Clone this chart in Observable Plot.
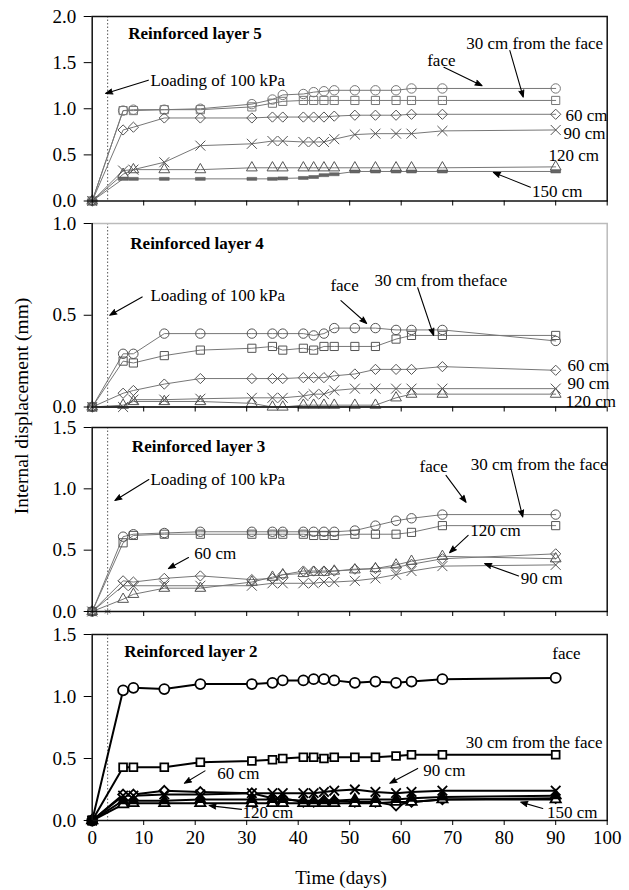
<!DOCTYPE html>
<html>
<head>
<meta charset="utf-8">
<script src="https://cdn.jsdelivr.net/npm/d3@7"></script>
<script src="https://cdn.jsdelivr.net/npm/@observablehq/plot@0.6"></script>
<style>
  body { margin: 0; background: #fff; }
  #wrap { position: relative; width: 629px; height: 890px; overflow: hidden; font-family: "Liberation Serif", "Times New Roman", serif; color: #000; }
  #wrap svg { position: absolute; left: 0; overflow: visible; font-family: "Liberation Serif", "Times New Roman", serif !important; font-size: 19px; background: transparent !important; }
  .ylab { position: absolute; left: 22px; top: 406px; transform: translate(-50%, -50%) rotate(-90deg); font-size: 19.5px; white-space: nowrap; }
  .xlab { position: absolute; left: 341px; top: 878px; transform: translate(-50%, -50%); font-size: 19px; white-space: nowrap; }
</style>
</head>
<body>
<div id="wrap">
  <div class="ylab">Internal displacement (mm)</div>
  <div class="xlab">Time (days)</div>
</div>
<script>
// ---------------- DATA ----------------
const days = [0, 6, 8, 14, 21, 31, 35, 37, 41, 43, 45, 47, 51, 55, 59, 62, 68, 90];
const loadingDay = 3;
const xTicks = [0, 10, 20, 30, 40, 50, 60, 70, 80, 90, 100];

// Reinforced layer 5
const l5Face  = [0, 0.98, 0.99, 0.99, 1.00, 1.05, 1.10, 1.15, 1.16, 1.18, 1.19, 1.20, 1.20, 1.20, 1.20, 1.22, 1.22, 1.22];
const l5Cm30  = [0, 0.98, 0.98, 0.99, 0.99, 1.02, 1.06, 1.08, 1.09, 1.09, 1.09, 1.09, 1.09, 1.09, 1.09, 1.09, 1.09, 1.09];
const l5Cm60  = [0, 0.77, 0.80, 0.90, 0.90, 0.90, 0.91, 0.91, 0.91, 0.91, 0.91, 0.92, 0.93, 0.93, 0.93, 0.94, 0.94, 0.94];
const l5Cm90  = [0, 0.33, 0.34, 0.42, 0.60, 0.62, 0.65, 0.65, 0.64, 0.64, 0.64, 0.67, 0.72, 0.73, 0.73, 0.73, 0.76, 0.77];
const l5Cm120 = [0, 0.29, 0.34, 0.34, 0.34, 0.36, 0.36, 0.36, 0.36, 0.36, 0.36, 0.36, 0.36, 0.36, 0.36, 0.36, 0.36, 0.37];
const l5Cm150 = [0, 0.24, 0.24, 0.24, 0.24, 0.24, 0.24, 0.245, 0.25, 0.26, 0.28, 0.29, 0.32, 0.32, 0.32, 0.32, 0.32, 0.32];

// Reinforced layer 4
const l4Face  = [0, 0.29, 0.29, 0.40, 0.40, 0.40, 0.40, 0.40, 0.40, 0.39, 0.40, 0.43, 0.43, 0.43, 0.42, 0.42, 0.42, 0.36];
const l4Cm30  = [0, 0.25, 0.24, 0.28, 0.31, 0.32, 0.33, 0.31, 0.32, 0.31, 0.33, 0.33, 0.33, 0.33, 0.37, 0.39, 0.39, 0.39];
const l4Cm60  = [0, 0.075, 0.09, 0.125, 0.155, 0.155, 0.155, 0.155, 0.16, 0.16, 0.16, 0.17, 0.18, 0.205, 0.205, 0.205, 0.22, 0.20];
const l4Cm90  = [0, 0.0, 0.04, 0.04, 0.045, 0.05, 0.05, 0.05, 0.06, 0.07, 0.07, 0.09, 0.10, 0.10, 0.10, 0.10, 0.10, 0.10];
const l4Cm120 = [0, 0.01, 0.03, 0.03, 0.03, 0.02, 0.0, 0.0, 0.01, 0.01, 0.01, 0.01, 0.01, 0.01, 0.05, 0.07, 0.07, 0.07];

// Reinforced layer 3
const l3Face  = [0, 0.61, 0.63, 0.64, 0.65, 0.65, 0.65, 0.65, 0.65, 0.65, 0.65, 0.65, 0.66, 0.70, 0.74, 0.76, 0.79, 0.79];
const l3Cm30  = [0, 0.56, 0.62, 0.63, 0.63, 0.63, 0.63, 0.63, 0.63, 0.62, 0.62, 0.62, 0.63, 0.63, 0.63, 0.645, 0.70, 0.70];
const l3Cm60  = [0, 0.25, 0.24, 0.27, 0.29, 0.26, 0.27, 0.30, 0.33, 0.33, 0.33, 0.33, 0.345, 0.35, 0.36, 0.385, 0.43, 0.47];
const l3Cm90  = [0, 0.21, 0.21, 0.21, 0.21, 0.21, 0.23, 0.23, 0.23, 0.23, 0.24, 0.24, 0.25, 0.27, 0.30, 0.33, 0.37, 0.38];
const l3Cm120 = [0, 0.10, 0.14, 0.19, 0.19, 0.24, 0.28, 0.30, 0.31, 0.32, 0.32, 0.33, 0.34, 0.35, 0.38, 0.41, 0.45, 0.43];
const l3Cm150Days = [0, 3];
const l3Cm150 = [0, 0];

// Reinforced layer 2
const l2Face  = [0, 1.05, 1.07, 1.06, 1.10, 1.10, 1.11, 1.13, 1.13, 1.14, 1.14, 1.13, 1.11, 1.12, 1.11, 1.12, 1.14, 1.15];
const l2Cm30  = [0, 0.43, 0.43, 0.43, 0.47, 0.48, 0.49, 0.50, 0.51, 0.51, 0.50, 0.51, 0.51, 0.51, 0.52, 0.53, 0.53, 0.53];
const l2Cm60  = [0, 0.21, 0.21, 0.24, 0.23, 0.22, 0.18, 0.18, 0.15, 0.15, 0.16, 0.16, 0.15, 0.15, 0.12, 0.15, 0.17, 0.18];
const l2Cm90  = [0, 0.20, 0.20, 0.21, 0.21, 0.22, 0.22, 0.22, 0.22, 0.22, 0.23, 0.24, 0.25, 0.23, 0.22, 0.23, 0.24, 0.24];
const l2Cm120 = [0, 0.13, 0.14, 0.14, 0.14, 0.14, 0.14, 0.14, 0.14, 0.14, 0.14, 0.14, 0.14, 0.14, 0.15, 0.15, 0.17, 0.17];
const l2Cm150 = [0, 0.16, 0.16, 0.16, 0.17, 0.17, 0.17, 0.17, 0.16, 0.16, 0.16, 0.16, 0.17, 0.17, 0.17, 0.18, 0.19, 0.20];

// ---------------- ANNOTATIONS (data coordinates) ----------------
const ann5 = [
  {x: 7.0, y: 1.82, text: "Reinforced layer 5", anchor: "start", bold: true},
  {x: 11.3, y: 1.31, text: "Loading of 100 kPa", anchor: "start"},
  {x: 67.8, y: 1.52, text: "face", anchor: "middle"},
  {x: 85.9, y: 1.71, text: "30 cm from the face", anchor: "middle"},
  {x: 91.9, y: 0.93, text: "60 cm", anchor: "start"},
  {x: 91.5, y: 0.73, text: "90 cm", anchor: "start"},
  {x: 88.6, y: 0.49, text: "120 cm", anchor: "start"},
  {x: 85.4, y: 0.106, text: "150 cm", anchor: "start"}
];
const arr5 = [
  {x1: 10.9, y1: 1.31, x2: 2.6, y2: 1.165},
  {x1: 68.3, y1: 1.45, x2: 75.7, y2: 1.25},
  {x1: 81.1, y1: 1.63, x2: 83.7, y2: 1.125},
  {x1: 85.1, y1: 0.15, x2: 77.9, y2: 0.31}
];
const ann4 = [
  {x: 7.4, y: 0.89, text: "Reinforced layer 4", anchor: "start", bold: true},
  {x: 11.3, y: 0.61, text: "Loading of 100 kPa", anchor: "start"},
  {x: 49.0, y: 0.66, text: "face", anchor: "middle"},
  {x: 67.7, y: 0.69, text: "30 cm from theface", anchor: "middle"},
  {x: 92.3, y: 0.226, text: "60 cm", anchor: "start"},
  {x: 92.3, y: 0.128, text: "90 cm", anchor: "start"},
  {x: 91.9, y: 0.03, text: "120 cm", anchor: "start"}
];
const arr4 = [
  {x1: 9.7, y1: 0.60, x2: 3.4, y2: 0.50},
  {x1: 48.3, y1: 0.58, x2: 53.3, y2: 0.455},
  {x1: 63.2, y1: 0.65, x2: 66.3, y2: 0.39}
];
const ann3 = [
  {x: 7.7, y: 1.345, text: "Reinforced layer 3", anchor: "start", bold: true},
  {x: 11.3, y: 1.076, text: "Loading of 100 kPa", anchor: "start"},
  {x: 66.3, y: 1.18, text: "face", anchor: "middle"},
  {x: 86.8, y: 1.2, text: "30 cm from the face", anchor: "middle"},
  {x: 73.4, y: 0.66, text: "120 cm", anchor: "start"},
  {x: 19.8, y: 0.47, text: "60 cm", anchor: "start"},
  {x: 83.2, y: 0.27, text: "90 cm", anchor: "start"}
];
const arr3 = [
  {x1: 11.0, y1: 1.076, x2: 4.4, y2: 0.905},
  {x1: 68.7, y1: 1.11, x2: 72.6, y2: 0.89},
  {x1: 81.4, y1: 1.15, x2: 83.6, y2: 0.77},
  {x1: 73.0, y1: 0.62, x2: 69.4, y2: 0.48},
  {x1: 18.7, y1: 0.44, x2: 14.8, y2: 0.35},
  {x1: 82.8, y1: 0.29, x2: 76.2, y2: 0.39}
];
const ann2 = [
  {x: 6.2, y: 1.365, text: "Reinforced layer 2", anchor: "start", bold: true},
  {x: 92.1, y: 1.35, text: "face", anchor: "middle"},
  {x: 85.8, y: 0.63, text: "30 cm from the face", anchor: "middle"},
  {x: 24.3, y: 0.38, text: "60 cm", anchor: "start"},
  {x: 64.3, y: 0.40, text: "90 cm", anchor: "start"},
  {x: 29.2, y: 0.065, text: "120 cm", anchor: "start"},
  {x: 88.3, y: 0.067, text: "150 cm", anchor: "start"}
];
const arr2 = [
  {x1: 21.9, y1: 0.40, x2: 17.9, y2: 0.30},
  {x1: 63.2, y1: 0.42, x2: 57.8, y2: 0.30},
  {x1: 29.0, y1: 0.09, x2: 22.7, y2: 0.12},
  {x1: 87.5, y1: 0.097, x2: 83.2, y2: 0.148}
];

// ---------------- RENDERING ----------------
const FONT = "Liberation Serif, Times New Roman, serif";
const dashSymbol = {
  draw(ctx, size) {
    const w = Math.sqrt(size) * 0.6;
    ctx.moveTo(-w, -1.5); ctx.lineTo(w, -1.5); ctx.lineTo(w, 1.5); ctx.lineTo(-w, 1.5); ctx.closePath();
  }
};

const ML = 91.7, MR = 22.3, W = 629;

const thinStyle = {line: "#777", lineWidth: 1, mark: "#555", markWidth: 1, markFill: "none"};
const boldStyle = {line: "#000", lineWidth: 2, mark: "#000", markWidth: 1.8, markFill: "white"};

const panels = [
  {top: 16, bottom: 200.5, yDomain: [0, 2], yTicks: [0, 0.5, 1, 1.5, 2], frame: "black", style: thinStyle,
   series: [
     {values: l5Face, symbol: "circle", r: 4.7, mark: "#777"},
     {values: l5Cm30, symbol: "square", r: 4.6, mark: "#777"},
     {values: l5Cm60, symbol: "diamond2", r: 4.6},
     {values: l5Cm90, symbol: "times", r: 4.6},
     {values: l5Cm120, symbol: "triangle", r: 4},
     {values: l5Cm150, symbol: dashSymbol, r: 4.6, fill: "#666", strokeW: 0.5}
   ], ann: ann5, arrows: arr5},
  {top: 223, bottom: 406.5, yDomain: [0, 1], yTicks: [0, 0.5, 1], frame: "gray", style: thinStyle,
   series: [
     {values: l4Face, symbol: "circle", r: 4.7},
     {values: l4Cm30, symbol: "square", r: 4.6},
     {values: l4Cm60, symbol: "diamond2", r: 4.6},
     {values: l4Cm90, symbol: "times", r: 4.6},
     {values: l4Cm120, symbol: "triangle", r: 4}
   ], ann: ann4, arrows: arr4},
  {top: 427, bottom: 611, yDomain: [0, 1.5], yTicks: [0, 0.5, 1, 1.5], frame: "black", style: thinStyle,
   series: [
     {values: l3Face, symbol: "circle", r: 4.7},
     {values: l3Cm30, symbol: "square", r: 4.6},
     {values: l3Cm60, symbol: "diamond2", r: 4.6},
     {values: l3Cm90, symbol: "times", r: 4.6},
     {values: l3Cm120, symbol: "triangle", r: 4},
     {values: l3Cm150, x: l3Cm150Days, symbol: "asterisk", r: 3.2, mark: "#888"}
   ], ann: ann3, arrows: arr3},
  {top: 634, bottom: 820, yDomain: [0, 1.5], yTicks: [0, 0.5, 1, 1.5], frame: "black", style: boldStyle, xLabels: true,
   series: [
     {values: l2Face, symbol: "circle", r: 5},
     {values: l2Cm30, symbol: "square", r: 4.4},
     {values: l2Cm60, symbol: "diamond2", r: 4.4},
     {values: l2Cm90, symbol: "times", r: 4.4},
     {values: l2Cm120, symbol: "triangle", r: 3.8},
     {values: l2Cm150, symbol: "triangle", r: 3.5, fill: "#000"}
   ], ann: ann2, arrows: arr2}
];

const wrap = document.getElementById("wrap");

for (const p of panels) {
  const mt = 12, mb = p.xLabels ? 34 : 12;
  const st = p.style;
  const marks = [];
  marks.push(Plot.ruleX([loadingDay], {stroke: "#555", strokeWidth: 1, strokeDasharray: "1.5,2"}));
  const seriesRows = p.series.map(s => s.values.map((v, i) => ({day: (s.x || days)[i], value: v})));
  p.series.forEach((s, k) => {
    marks.push(Plot.line(seriesRows[k], {x: "day", y: "value", stroke: s.x ? "#aaa" : st.line, strokeWidth: s.x ? 0.8 : st.lineWidth}));
  });
  p.series.forEach((s, k) => {
    marks.push(Plot.dot(seriesRows[k], {
      x: "day", y: "value", symbol: s.symbol, r: s.r,
      stroke: s.mark || st.mark, strokeWidth: s.strokeW != null ? s.strokeW : st.markWidth,
      fill: s.fill || st.markFill
    }));
  });
  if (p.frame === "gray") {
    marks.push(Plot.frame({stroke: "#bbb", strokeWidth: 1.5}));
    marks.push(Plot.ruleX([0], {stroke: "#000", strokeWidth: 1.3}));
    marks.push(Plot.ruleY([0], {stroke: "#000", strokeWidth: 1.3}));
  } else {
    marks.push(Plot.frame({stroke: "#111", strokeWidth: 1.5}));
  }
  marks.push(Plot.text(p.ann.filter(d => !d.bold && d.anchor === "start"), {
    x: "x", y: "y", text: "text", textAnchor: "start", fontSize: 17, fontFamily: FONT, fill: "#000"
  }));
  marks.push(Plot.text(p.ann.filter(d => !d.bold && d.anchor === "middle"), {
    x: "x", y: "y", text: "text", textAnchor: "middle", fontSize: 17, fontFamily: FONT, fill: "#000"
  }));
  marks.push(Plot.text(p.ann.filter(d => d.bold), {
    x: "x", y: "y", text: "text", textAnchor: "start", fontSize: 17, fontWeight: "bold", fontFamily: FONT, fill: "#000"
  }));
  marks.push(Plot.arrow(p.arrows, {
    x1: "x1", y1: "y1", x2: "x2", y2: "y2", stroke: "#000", fill: "#000",
    strokeWidth: 1.1, headLength: 10, headAngle: 40
  }));
  marks.push(Plot.axisX({ticks: xTicks, tickSize: 5, tickPadding: 5,
    tickFormat: p.xLabels ? (d => String(d)) : (() => ""), label: null, fontSize: 19, fontFamily: FONT}));
  marks.push(Plot.axisY({ticks: p.yTicks, tickSize: 8, tickPadding: 8, tickFormat: d3.format(".1f"),
    label: null, fontSize: 19, fontFamily: FONT}));

  const svg = Plot.plot({
    width: W,
    height: mt + (p.bottom - p.top) + mb,
    marginTop: mt, marginBottom: mb, marginLeft: ML, marginRight: MR,
    x: {domain: [0, 100]},
    y: {domain: p.yDomain},
    style: "font-family: 'Liberation Serif', 'Times New Roman', serif; font-size: 19px; background: transparent; color: #000; overflow: visible;",
    marks
  });
  svg.style.top = (p.top - mt) + "px";
  wrap.appendChild(svg);
}
</script>
</body>
</html>
